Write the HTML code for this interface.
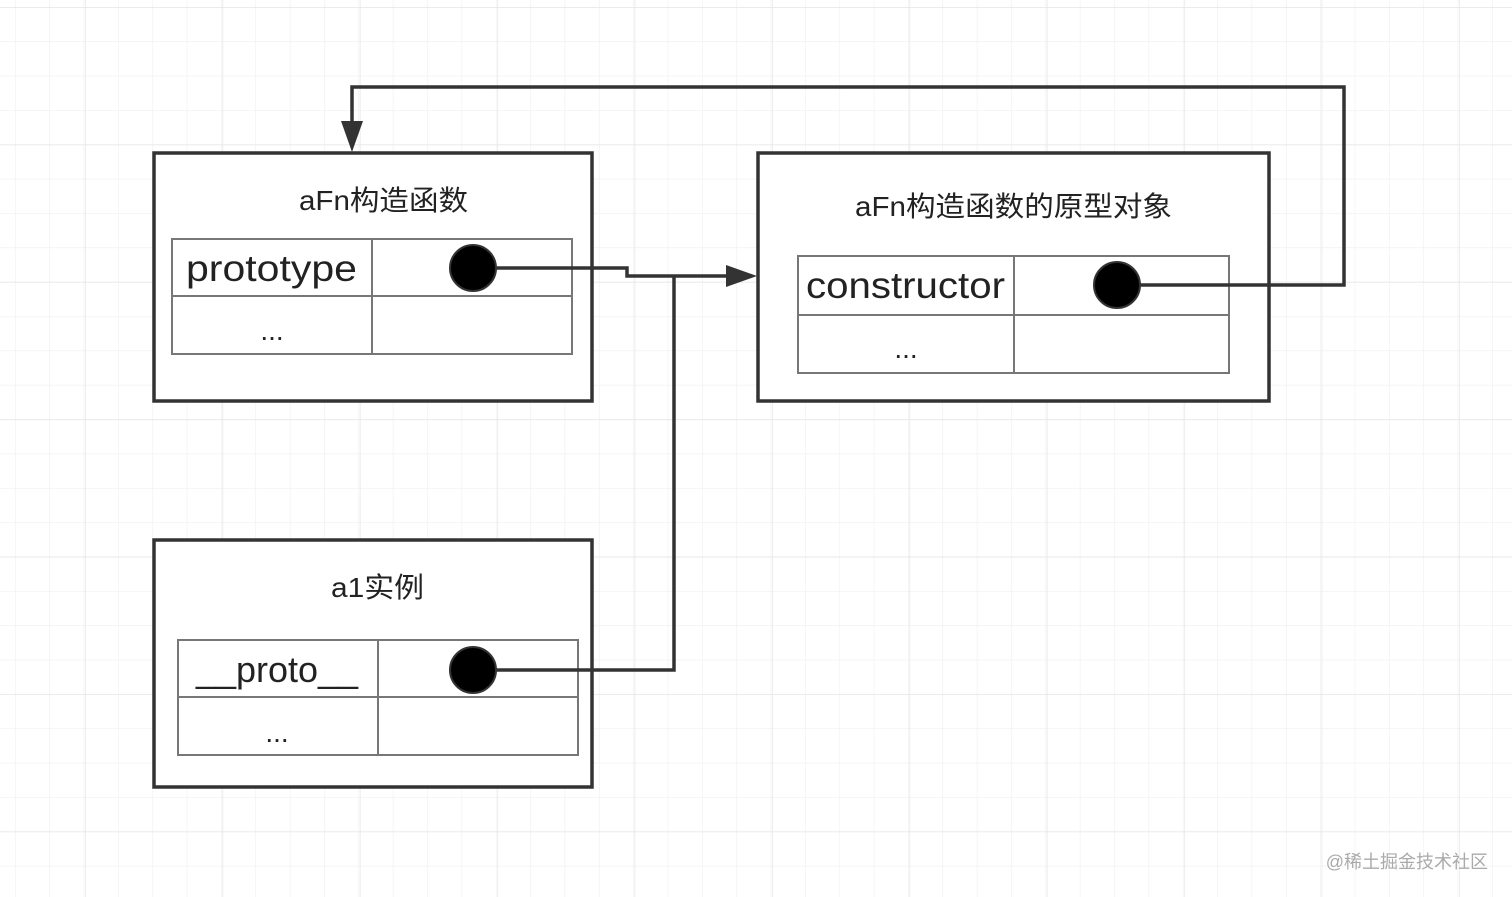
<!DOCTYPE html>
<html><head><meta charset="utf-8"><style>
html,body{margin:0;padding:0;background:#fff}
svg{display:block}
text{font-family:"Liberation Sans","Noto Sans CJK SC",sans-serif;fill:#222}
</style></head><body>
<svg width="1512" height="897" viewBox="0 0 1512 897" xmlns="http://www.w3.org/2000/svg">
<defs>
<pattern id="g" x="15" y="7" width="34.35" height="34.35" patternUnits="userSpaceOnUse">
<path d="M0 0H34.35M0 0V34.35" stroke="#efefef" stroke-width="1.2" fill="none"/>
</pattern>
<pattern id="G" x="85" y="7" width="137.4" height="137.4" patternUnits="userSpaceOnUse">
<path d="M0 0H137.4M0 0V137.4" stroke="#e6e6e6" stroke-width="1.4" fill="none"/>
</pattern>
</defs>
<rect width="1512" height="897" fill="url(#g)"/>
<rect width="1512" height="897" fill="url(#G)"/>

<g stroke="#333" stroke-width="3.5" fill="#fff">
<rect x="154" y="153" width="438" height="248"/>
<rect x="758" y="153" width="511" height="248"/>
<rect x="154" y="540" width="438" height="247"/>
</g>
<g stroke="#777" stroke-width="2" fill="none">
<rect x="172" y="239" width="400" height="115"/>
<line x1="172" y1="296" x2="572" y2="296"/><line x1="372" y1="239" x2="372" y2="354"/>
<rect x="798" y="256" width="431" height="117"/>
<line x1="798" y1="315" x2="1229" y2="315"/><line x1="1014" y1="256" x2="1014" y2="373"/>
<rect x="178" y="640" width="400" height="115"/>
<line x1="178" y1="697" x2="578" y2="697"/><line x1="378" y1="640" x2="378" y2="755"/>
</g>

<g stroke="#333" stroke-width="3.5" fill="none">
<polyline points="473,268 627,268 627,276 730,276"/>
<polyline points="473,670 674,670 674,276"/>
<polyline points="1117,285 1344,285 1344,87 352,87 352,125"/>
</g>
<polygon points="726,265 757,276 726,287" fill="#333"/>
<polygon points="341,121 352,152 363,121" fill="#333"/>
<g fill="#000" stroke="#333" stroke-width="2">
<circle cx="473" cy="268" r="23"/><circle cx="1117" cy="285" r="23"/><circle cx="473" cy="670" r="23"/>
</g>

<text x="299" y="210" font-size="28" textLength="169" lengthAdjust="spacingAndGlyphs">aFn构造函数</text>
<text x="855" y="216" font-size="28" textLength="317" lengthAdjust="spacingAndGlyphs">aFn构造函数的原型对象</text>
<text x="331" y="597" font-size="28" textLength="93" lengthAdjust="spacingAndGlyphs">a1实例</text>
<text x="186" y="281" font-size="37" textLength="171" lengthAdjust="spacingAndGlyphs">prototype</text>
<text x="272" y="340" font-size="28" text-anchor="middle">...</text>
<text x="806" y="298" font-size="37" textLength="199" lengthAdjust="spacingAndGlyphs">constructor</text>
<text x="906" y="358" font-size="28" text-anchor="middle">...</text>
<text x="196" y="682" font-size="36" textLength="162" lengthAdjust="spacingAndGlyphs">__proto__</text>
<text x="277" y="742" font-size="28" text-anchor="middle">...</text>
<text x="1488" y="868" font-size="18" text-anchor="end" style="fill:#aaa">@稀土掘金技术社区</text>
</svg>
</body></html>
